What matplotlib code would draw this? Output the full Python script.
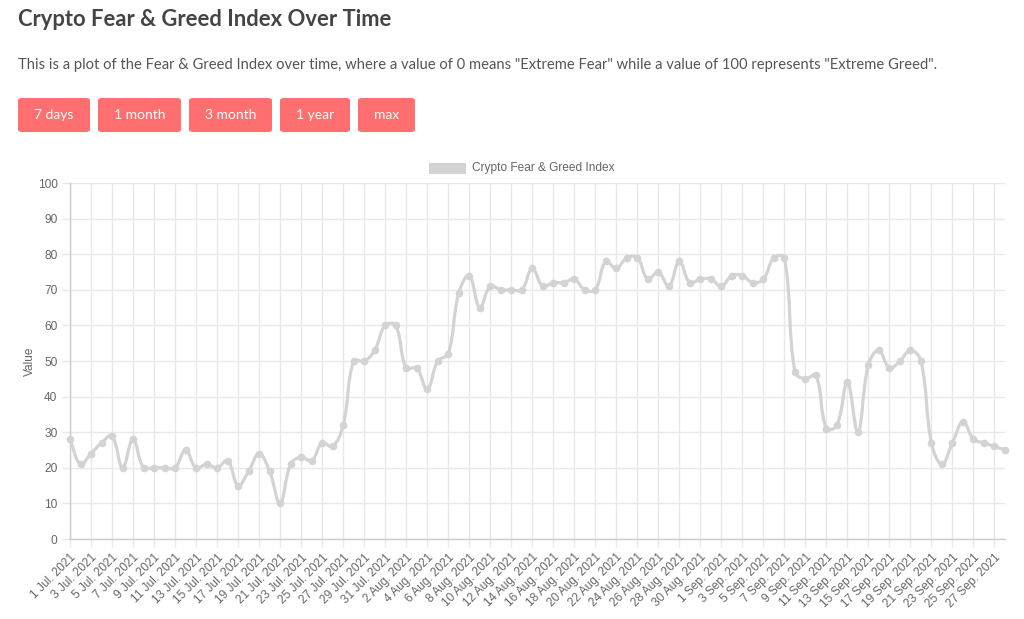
"""Crypto Fear & Greed Index chart."""
import numpy as np
import pandas as pd
import matplotlib
matplotlib.use("Agg")
from matplotlib import pyplot as plt
from matplotlib.path import Path
from matplotlib.patches import PathPatch, FancyBboxPatch, Rectangle

dates = pd.date_range("2021-07-01", "2021-09-28", freq="D")
values = [28, 21, 24, 27, 29, 20, 28, 20, 20, 20, 20, 25, 20, 21, 20, 22,
          15, 19, 24, 19, 10, 21, 23, 22, 27, 26, 32, 50, 50, 53, 60,
          60, 48, 48, 42, 50, 52, 69, 74, 65, 71, 70, 70, 70, 76, 71, 72,
          72, 73, 70, 70, 78, 76, 79, 79, 73, 75, 71, 78, 72, 73, 73,
          71, 74, 74, 72, 73, 79, 79, 47, 45, 46, 31, 32, 44, 30, 49, 53,
          48, 50, 53, 50, 27, 21, 27, 33, 28, 27, 26, 25]
buttons = ["7 days", "1 month", "3 month", "1 year", "max"]
series_name = "Crypto Fear & Greed Index"

W, H = 1024, 619
LINE = "#d3d3d3"
GRID = "#e8e8e8"
TXT = "#666666"
FONT = ["Liberation Sans", "DejaVu Sans"]


def spline_path(ax, x, y, tension=0.4):
    """Chart.js style cubic curve through the points (pixel-space tension)."""
    pts = ax.transData.transform(np.column_stack([x, y]))
    n = len(pts)
    cp_prev = np.zeros_like(pts)
    cp_next = np.zeros_like(pts)
    for i in range(n):
        p0 = pts[max(i - 1, 0)]
        p1 = pts[i]
        p2 = pts[min(i + 1, n - 1)]
        d01 = np.hypot(*(p1 - p0))
        d12 = np.hypot(*(p2 - p1))
        tot = d01 + d12
        s01 = d01 / tot if tot else 0
        s12 = d12 / tot if tot else 0
        cp_prev[i] = p1 - tension * s01 * (p2 - p0)
        cp_next[i] = p1 + tension * s12 * (p2 - p0)
    verts = [pts[0]]
    codes = [Path.MOVETO]
    for i in range(n - 1):
        verts += [cp_next[i], cp_prev[i + 1], pts[i + 1]]
        codes += [Path.CURVE4] * 3
    inv = ax.transData.inverted()
    return Path(inv.transform(np.array(verts)), codes)


fig = plt.figure(figsize=(W / 100, H / 100), dpi=100)
fig.patch.set_facecolor("white")

# header text
fig.text(18 / W, 1 - 20 / H, "Crypto Fear & Greed Index Over Time",
         fontsize=15.8, fontweight="bold", color="#444444",
         family=["Lato", "DejaVu Sans"], va="center", ha="left")
fig.text(18 / W, 1 - 65 / H,
         'This is a plot of the Fear & Greed Index over time, where a value of 0 '
         'means "Extreme Fear" while a value of 100 represents "Extreme Greed".',
         fontsize=10.6, color="#555555", family=["Lato", "DejaVu Sans"],
         va="center", ha="left")

# buttons
btn_x = [18, 98, 189, 280, 358]
btn_w = [72, 83, 83, 70, 57]
for label, bx, bw in zip(buttons, btn_x, btn_w):
    box = FancyBboxPatch((bx / W, 1 - 132 / H), bw / W, 34 / H,
                         boxstyle="round,pad=0,rounding_size=0.004",
                         transform=fig.transFigure, facecolor="#ff6f6f",
                         edgecolor="none")
    fig.patches.append(box)
    fig.text((bx + bw / 2) / W, 1 - 115 / H, label, color="white",
             fontsize=10, family=["Lato", "DejaVu Sans"],
             ha="center", va="center")

# legend
fig.patches.append(Rectangle((429 / W, 1 - 174 / H), 37 / W, 11 / H,
                             transform=fig.transFigure, facecolor=LINE,
                             edgecolor="none"))
fig.text(472 / W, 1 - 168.5 / H, series_name, fontsize=8.6, color=TXT,
         family=FONT, va="center", ha="left")

ax = fig.add_axes([70 / W, 1 - 539 / H, (1005 - 70) / W, (539 - 183) / H])
x = np.arange(len(values))
ax.set_xlim(0, len(values) - 1)
ax.set_ylim(0, 100)

ax.set_yticks(range(0, 101, 10))
ax.set_xticks(x[::2])
ax.set_xticklabels(["{} {}. {}".format(d.day, d.strftime("%b"), d.year)
                    for d in dates[::2]],
                   rotation=45, ha="right", rotation_mode="anchor")
ax.tick_params(axis="both", colors=GRID, labelcolor=TXT, labelsize=8.6,
               length=6, width=1, pad=3)
for lab in ax.get_xticklabels() + ax.get_yticklabels():
    lab.set_family(FONT)
ax.grid(True, color=GRID, linewidth=1)
ax.set_axisbelow(True)
for side in ["top", "right"]:
    ax.spines[side].set_visible(False)
for side in ["left", "bottom"]:
    ax.spines[side].set_color("#cccccc")
    ax.spines[side].set_linewidth(1)

ax.set_ylabel("Value", fontsize=8.6, color=TXT, family=FONT, labelpad=1)

path = spline_path(ax, x, values)
ax.add_patch(PathPatch(path, facecolor="none", edgecolor=LINE, linewidth=2.3,
                       clip_on=False, zorder=3))
ax.plot(x, values, linestyle="none", marker="o", markersize=4.5,
        color=LINE, clip_on=False, zorder=4)

fig.savefig("out.png", dpi=100)
